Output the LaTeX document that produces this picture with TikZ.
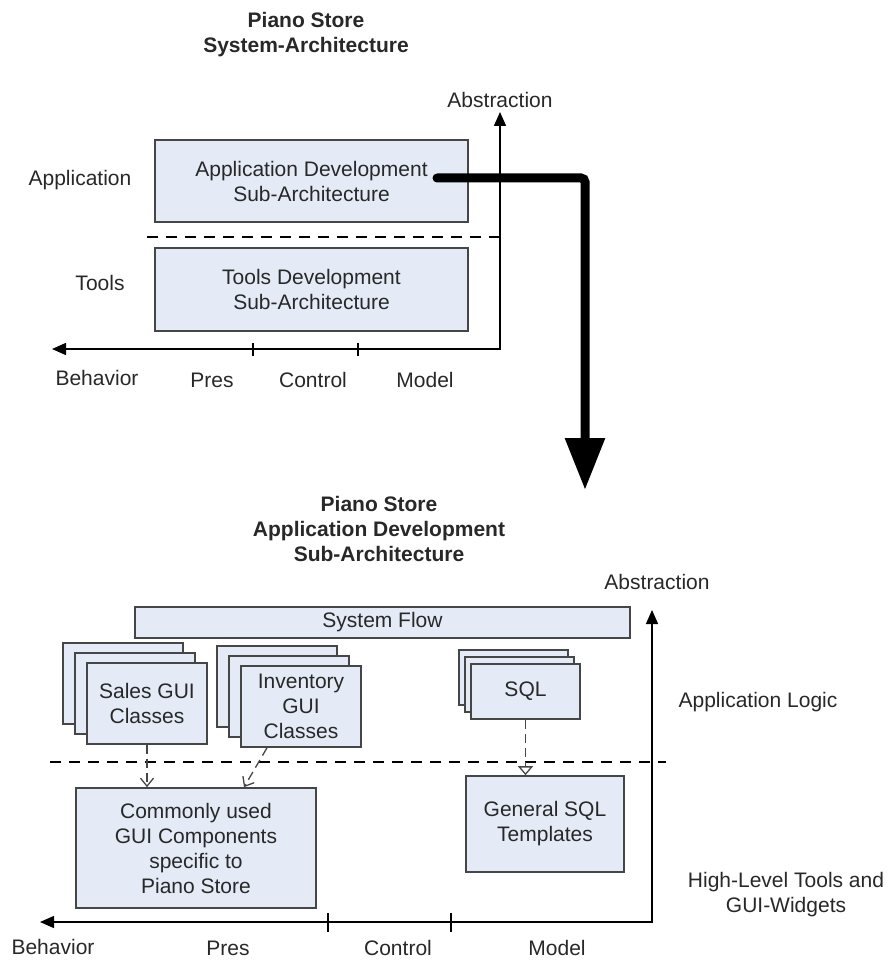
\documentclass[tikz,border=0pt]{standalone}
\usepackage{fontspec}
\setmainfont{Liberation Sans}
\usetikzlibrary{arrows.meta,calc}
\definecolor{boxfill}{RGB}{228,235,246}
\definecolor{boxline}{RGB}{70,70,70}
\definecolor{txt}{RGB}{40,40,40}
\begin{document}
\begin{tikzpicture}[x=1pt,y=-1pt,
  every node/.style={font=\fontsize{21}{25}\selectfont, text=txt, inner sep=0pt},
  box/.style={draw=boxline, fill=boxfill, line width=1.6pt, align=center, inner sep=0pt},
  lbl/.style={align=center},
  ttl/.style={align=center, font=\fontsize{21}{25}\selectfont\bfseries},
  axis/.style={line width=1.5pt, draw=black},
  tick/.style={line width=1.2pt},
  sep/.style={line width=1.5pt, dash pattern=on 11pt off 8pt},
  dep/.style={line width=1.3pt, draw=boxline, dash pattern=on 9pt off 5pt},
  big/.style={line width=9pt, line cap=round, rounded corners=4pt, -{Triangle[length=52pt,width=38pt]}},
  tri/.style={{Triangle[length=14pt,width=12pt]}-{Triangle[length=14pt,width=12pt]}},
]
\useasboundingbox[fill=white] (0,0) rectangle (888,960);

% ---------- top section ----------
\node[ttl] (t1) at (306,35) {Piano Store\\System-Architecture};

\node[box, minimum width=313pt, minimum height=82pt] (appdev) at (311.5,181) {Application Development\\Sub-Architecture};
\node[box, minimum width=313pt, minimum height=83pt] (tooldev) at (311.5,289.5) {Tools Development\\Sub-Architecture};

\draw[sep] (147,237) -- (508,237);

\coordinate (o1) at (500,349);
\coordinate (ay1) at (500,112);
\coordinate (bx1) at (52,349);
\draw[axis, tri] (bx1) -- (o1) -- (ay1);
\draw[tick] (253,343) -- (253,356);
\draw[tick] (358,343) -- (358,356);

\node (abs1) at (500,100) {Abstraction};
\node (lapp) at (80,180) {Application};
\node (ltools) at (100,283) {Tools};
\node (lbeh1) at (97,378) {Behavior};
\node (lpres1) at (212,380) {Pres};
\node (lctl1) at (313,380) {Control};
\node (lmod1) at (425,380) {Model};

\coordinate (ts) at (437,178);
\coordinate (te) at (585,490);
\draw[big] (ts) -| (te);

% ---------- bottom section ----------
\node[ttl] (t2) at (379,529) {Piano Store\\Application Development\\Sub-Architecture};
\node (abs2) at (657,582) {Abstraction};

\node[box, minimum width=495pt, minimum height=31pt] (flow) at (382.5,622.5) {System Flow};

\node[box, minimum width=120pt, minimum height=81pt] (salesC) at (123,683.5) {};
\node[box, minimum width=120pt, minimum height=81pt] (salesB) at (135,693.5) {};
\node[box, minimum width=120pt, minimum height=81pt] (sales) at (147,703.5) {Sales GUI\\Classes};

\node[box, minimum width=120pt, minimum height=81pt] (invC) at (277,686.5) {};
\node[box, minimum width=120pt, minimum height=81pt] (invB) at (289,696.5) {};
\node[box, minimum width=120pt, minimum height=81pt] (inv) at (301,706.5) {Inventory\\GUI\\Classes};

\node[box, minimum width=109pt, minimum height=55pt] (sqlC) at (513.5,677.5) {};
\node[box, minimum width=109pt, minimum height=55pt] (sqlB) at (519.5,684.5) {};
\node[box, minimum width=109pt, minimum height=55pt] (sql) at (525.5,691.5) {SQL};

\draw[sep] (50,762) -- (666,762);

\node[box, minimum width=240pt, minimum height=120pt] (common) at (196,848) {Commonly used\\GUI Components\\specific to\\Piano Store};
\node[box, minimum width=158pt, minimum height=96pt] (gsql) at (545,824) {General SQL\\Templates};

\draw[dep, -{Straight Barb[length=8pt,width=13pt,line width=1.3pt]}] (sales.south) -- (sales.south |- common.north);
\draw[dep, -{Straight Barb[length=8pt,width=13pt,line width=1.3pt]}] ($(inv.south)+(-34,0)$) -- ($(common.north)+(48,0)$);
\draw[dep, -{Triangle[open,length=9pt,width=15pt,fill=white,line width=1.3pt]}] (sql.south) -- (sql.south |- gsql.north);

\coordinate (o2) at (652,922);
\coordinate (ay2) at (652,610);
\coordinate (bx2) at (40,922);
\draw[axis, tri] (bx2) -- (o2) -- (ay2);
\draw[tick] (328,913) -- (328,932);
\draw[tick] (451,913) -- (451,932);

\node (lapplogic) at (758,702) {Application Logic};
\node[lbl] (lhigh) at (786,895) {High-Level Tools and\\GUI-Widgets};
\node (lbeh2) at (53,947) {Behavior};
\node (lpres2) at (228,948) {Pres};
\node (lctl2) at (398,948) {Control};
\node (lmod2) at (557,948) {Model};
\end{tikzpicture}
\end{document}
